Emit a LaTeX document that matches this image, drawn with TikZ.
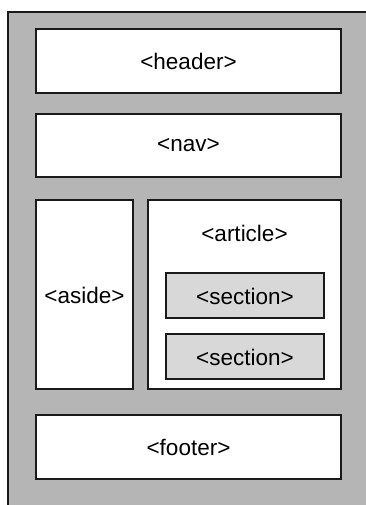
\documentclass[tikz,border=0pt]{standalone}
\usepackage{fontspec}
\setmainfont{Liberation Sans}
\definecolor{bggray}{HTML}{B5B5B5}
\definecolor{secgray}{HTML}{D8D8D8}
\definecolor{edge}{HTML}{1A1A1A}
\begin{document}
\begin{tikzpicture}[x=1pt,y=-1pt,
  box/.style={draw=edge,line width=1.4pt,fill=white},
  secbox/.style={draw=edge,line width=1.2pt,fill=secgray},
  lbl/.style={font=\fontsize{22.5}{26}\selectfont,text=black,inner sep=0pt}]
\useasboundingbox (0,0) rectangle (366,505);
\fill[bggray] (8,12) rectangle (366,505);
\draw[edge,line width=1.4pt] (8,505) -- (8,12) -- (366,12);
\draw[box] (36,29) rectangle (341,93);
\node[lbl] (header) at (188.5,61) {<header>};
\draw[box] (36,114) rectangle (341,177);
\node[lbl] (nav) at (188.5,145.5) {<nav>};
\draw[box] (36,200) rectangle (133,389);
\node[lbl] (aside) at (84.5,295) {<aside>};
\draw[box] (148,200) rectangle (341,389);
\node[lbl] (article) at (244.5,233) {<article>};
\draw[secbox] (166,273) rectangle (324,318);
\node[lbl] (sec1) at (245,296) {<section>};
\draw[secbox] (166,334) rectangle (324,379);
\node[lbl] (sec2) at (245,357) {<section>};
\draw[box] (36,415) rectangle (341,479);
\node[lbl] (footer) at (188.5,447) {<footer>};
\end{tikzpicture}
\end{document}
